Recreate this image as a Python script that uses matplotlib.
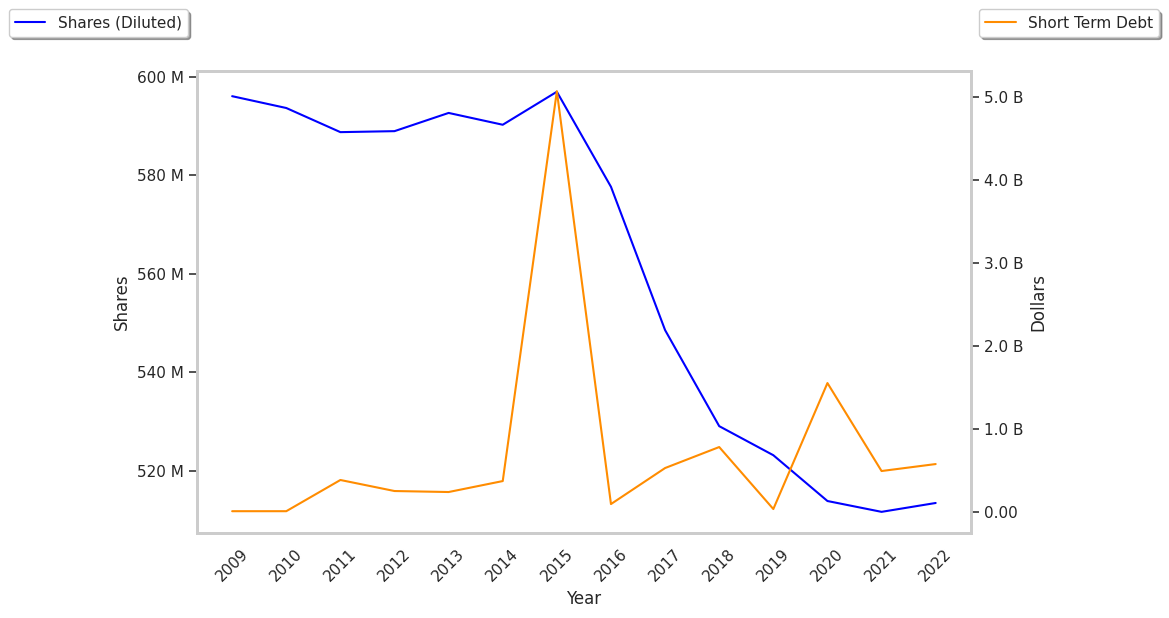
import numpy as np
import matplotlib
matplotlib.use('Agg')
import matplotlib.pyplot as plt
import seaborn as sns
from matplotlib.ticker import FuncFormatter

years = [2009, 2010, 2011, 2012, 2013, 2014, 2015, 2016, 2017, 2018, 2019, 2020, 2021, 2022]
shares_m = [596.1, 593.7, 588.8, 589.0, 592.7, 590.3, 597.0, 577.7, 548.6, 529.1, 523.2, 513.9, 511.7, 513.5]
debt_b = [0.01, 0.01, 0.386, 0.253, 0.241, 0.373, 5.07, 0.096, 0.53, 0.783, 0.036, 1.554, 0.494, 0.578]

sns.set_theme(style='white')
plt.rcParams['font.family'] = ['DejaVu Sans']

fig = plt.figure(figsize=(11.69, 6.18), dpi=100)
ax = fig.add_axes([0.1685, 0.1375, 0.662, 0.7475])
ax2 = ax.twinx()

l1, = ax.plot(years, np.array(shares_m) * 1e6, color='blue', lw=1.5, label='Shares (Diluted)')
l2, = ax2.plot(years, np.array(debt_b) * 1e9, color='darkorange', lw=1.5, label='Short Term Debt')

ax.set_ylim(507.4e6, 601.2e6)
ax2.set_ylim(-0.253e9, 5.313e9)
ax.set_yticks([520e6, 540e6, 560e6, 580e6, 600e6])
ax2.set_yticks([0, 1e9, 2e9, 3e9, 4e9, 5e9])
ax.yaxis.set_major_formatter(FuncFormatter(lambda v, p: '%d M' % round(v / 1e6)))
ax2.yaxis.set_major_formatter(FuncFormatter(lambda v, p: '0.00' if v == 0 else '%.1f B' % (v / 1e9)))

ax.set_xticks(years)
ax.set_xticklabels([str(y) for y in years], rotation=45)
ax.set_xlabel('Year')
ax.set_ylabel('Shares')
ax2.set_ylabel('Dollars')

for a in (ax, ax2):
    a.tick_params(axis='y', which='major', length=6, width=1.2, color='#333333')
    for s in a.spines.values():
        s.set_color('#cccccc')
        s.set_linewidth(2)
ax.tick_params(axis='y', left=True)
ax2.tick_params(axis='y', right=True)

ax.legend(handles=[l1], loc='upper left', bbox_to_anchor=(-0.253, 1.15), shadow=True, fontsize=11)
ax2.legend(handles=[l2], loc='upper right', bbox_to_anchor=(1.253, 1.15), shadow=True, fontsize=11)

fig.savefig('out.png', dpi=100)
